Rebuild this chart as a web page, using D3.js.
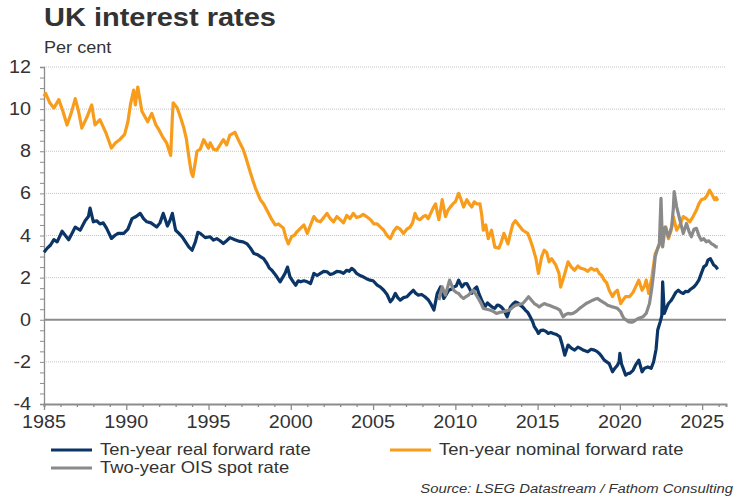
<!DOCTYPE html>
<html lang="en">
<head>
  <meta charset="UTF-8">
  <title>UK interest rates</title>
  <script src="https://d3js.org/d3.v7.min.js"></script>
  <style>
    body {
      margin: 0;
      font-family: Arial, "Liberation Sans", sans-serif;
      background: #fff;
    }
    text {
      font-family: Arial, "Liberation Sans", sans-serif;
    }
  </style>
</head>
<body>
  <svg width="750" height="500"></svg>

  <script>
    // Ten-year real forward rate [year, per cent]
    const realRate = [
      [1985.0,3.2],[1985.2,3.4],[1985.4,3.55],[1985.6,3.8],[1985.8,3.7],[1986.1,4.2],[1986.3,4.0],[1986.5,3.8],
      [1986.7,4.1],[1986.9,4.4],[1987.2,4.25],[1987.5,4.7],[1987.7,4.9],[1987.8,5.3],[1988.0,4.65],[1988.2,4.7],
      [1988.4,4.55],[1988.6,4.6],[1988.8,4.35],[1989.1,3.86],[1989.3,4.0],[1989.5,4.1],[1989.85,4.1],[1990.1,4.3],
      [1990.35,4.8],[1990.6,4.9],[1990.85,5.05],[1991.05,4.8],[1991.25,4.65],[1991.5,4.6],[1991.85,4.4],[1992.05,4.6],
      [1992.25,5.05],[1992.5,4.45],[1992.65,4.7],[1992.8,5.05],[1993.0,4.25],[1993.2,4.1],[1993.4,3.94],[1993.6,3.7],
      [1993.8,3.46],[1994.0,3.3],[1994.2,3.7],[1994.35,4.15],[1994.5,4.1],[1994.8,3.9],[1995.1,3.94],[1995.3,3.78],
      [1995.5,3.85],[1995.7,3.75],[1995.9,3.62],[1996.1,3.75],[1996.3,3.9],[1996.6,3.8],[1996.9,3.72],[1997.1,3.7],
      [1997.35,3.6],[1997.55,3.4],[1997.75,3.15],[1997.95,3.1],[1998.15,3.0],[1998.35,2.9],[1998.55,2.67],[1998.7,2.45],
      [1998.85,2.35],[1999.0,2.2],[1999.15,2.04],[1999.35,1.8],[1999.5,2.0],[1999.65,2.2],[1999.8,2.5],[1999.95,2.04],
      [2000.15,1.8],[2000.3,1.64],[2000.45,1.85],[2000.6,1.8],[2000.8,1.85],[2001.0,1.8],[2001.2,1.72],[2001.3,1.95],
      [2001.4,2.2],[2001.6,2.1],[2001.8,2.2],[2002.0,2.3],[2002.2,2.28],[2002.4,2.15],[2002.6,2.2],[2002.8,2.3],
      [2003.0,2.28],[2003.2,2.2],[2003.4,2.35],[2003.55,2.3],[2003.7,2.44],[2003.85,2.35],[2004.0,2.2],[2004.2,2.1],
      [2004.4,2.04],[2004.6,1.95],[2004.8,1.88],[2005.0,1.85],[2005.25,1.64],[2005.45,1.55],[2005.65,1.4],[2005.85,1.2],
      [2006.05,0.85],[2006.2,1.0],[2006.35,1.25],[2006.5,1.05],[2006.65,0.93],[2006.85,1.05],[2007.05,1.09],[2007.25,1.25],
      [2007.45,1.4],[2007.6,1.25],[2007.75,1.17],[2007.95,1.2],[2008.15,1.09],[2008.35,0.95],[2008.5,0.77],[2008.7,0.46],
      [2008.9,1.25],[2009.1,1.56],[2009.3,1.01],[2009.45,1.2],[2009.6,1.4],[2009.75,1.45],[2009.9,1.56],[2010.05,1.6],
      [2010.2,1.88],[2010.4,1.56],[2010.55,1.7],[2010.7,1.72],[2010.85,1.5],[2011.0,1.25],[2011.15,1.45],[2011.3,1.56],
      [2011.45,1.2],[2011.6,0.93],[2011.8,0.61],[2011.95,0.8],[2012.1,0.69],[2012.25,0.6],[2012.4,0.54],[2012.55,0.7],
      [2012.65,0.69],[2012.8,0.6],[2012.95,0.46],[2013.15,0.14],[2013.35,0.61],[2013.5,0.75],[2013.65,0.85],[2013.8,0.8],
      [2013.95,0.69],[2014.1,0.6],[2014.25,0.46],[2014.4,0.35],[2014.55,0.14],[2014.7,-0.1],[2014.8,-0.33],[2014.95,-0.5],
      [2015.05,-0.65],[2015.2,-0.5],[2015.35,-0.49],[2015.5,-0.55],[2015.65,-0.65],[2015.8,-0.6],[2015.95,-0.65],[2016.15,-0.7],
      [2016.35,-0.81],[2016.5,-1.2],[2016.65,-1.68],[2016.85,-1.2],[2017.05,-1.35],[2017.25,-1.44],[2017.45,-1.3],[2017.6,-1.36],
      [2017.8,-1.45],[2018.05,-1.52],[2018.25,-1.4],[2018.45,-1.44],[2018.6,-1.5],[2018.75,-1.6],[2018.9,-1.75],[2019.05,-1.92],
      [2019.2,-2.0],[2019.35,-2.08],[2019.55,-2.47],[2019.7,-2.3],[2019.85,-2.16],[2019.95,-2.0],[2020.0,-1.6],[2020.1,-2.1],
      [2020.2,-2.31],[2020.35,-2.63],[2020.5,-2.55],[2020.6,-2.55],[2020.8,-2.4],[2020.95,-2.16],[2021.15,-1.92],[2021.35,-2.47],
      [2021.5,-2.3],[2021.7,-2.24],[2021.9,-2.31],[2022.05,-2.0],[2022.2,-1.4],[2022.3,-0.49],[2022.45,-0.1],[2022.55,0.2],
      [2022.6,1.8],[2022.7,0.3],[2022.85,0.6],[2022.95,0.77],[2023.1,0.9],[2023.25,1.09],[2023.4,1.3],[2023.55,1.4],
      [2023.7,1.3],[2023.85,1.25],[2024.0,1.35],[2024.15,1.33],[2024.3,1.45],[2024.5,1.56],[2024.65,1.7],[2024.8,1.88],
      [2024.95,2.2],[2025.1,2.51],[2025.25,2.6],[2025.35,2.83],[2025.5,2.9],[2025.6,2.75],[2025.7,2.6],[2025.8,2.55],
      [2025.95,2.4]
    ];

    // Ten-year nominal forward rate [year, per cent]
    const nominalRate = [
      [1985.0,10.6],[1985.1,10.75],[1985.35,10.3],[1985.6,10.05],[1985.9,10.45],[1986.15,9.9],[1986.4,9.25],[1986.65,9.8],
      [1986.9,10.5],[1987.1,9.9],[1987.3,9.1],[1987.6,9.6],[1987.9,10.2],[1988.1,9.25],[1988.4,9.5],[1988.75,8.9],
      [1989.1,8.15],[1989.35,8.4],[1989.6,8.55],[1989.9,8.8],[1990.1,9.4],[1990.25,10.2],[1990.45,10.9],[1990.55,10.2],
      [1990.7,11.05],[1990.95,9.9],[1991.3,9.4],[1991.55,9.8],[1991.8,9.25],[1992.0,9.0],[1992.2,8.7],[1992.45,8.4],
      [1992.7,7.8],[1992.8,9.6],[1992.85,10.3],[1993.1,10.05],[1993.3,9.6],[1993.5,9.1],[1993.65,8.6],[1993.8,7.75],
      [1993.95,7.0],[1994.05,6.8],[1994.2,7.5],[1994.3,8.0],[1994.5,8.1],[1994.7,8.55],[1995.0,8.15],[1995.1,8.4],
      [1995.3,8.1],[1995.5,8.05],[1995.7,8.3],[1995.9,8.55],[1996.1,8.3],[1996.3,8.77],[1996.6,8.9],[1996.9,8.4],
      [1997.1,8.1],[1997.25,7.75],[1997.5,7.1],[1997.7,6.6],[1997.85,6.25],[1998.15,5.7],[1998.35,5.5],[1998.55,5.2],
      [1998.85,4.75],[1999.05,4.5],[1999.25,4.55],[1999.55,4.35],[1999.7,3.9],[1999.85,3.6],[2000.05,3.95],[2000.2,4.0],
      [2000.4,4.2],[2000.6,4.35],[2000.8,4.5],[2001.0,4.1],[2001.2,4.5],[2001.4,4.9],[2001.6,4.7],[2001.8,4.65],
      [2002.0,4.85],[2002.2,5.05],[2002.4,4.8],[2002.6,4.65],[2002.8,4.9],[2003.0,4.75],[2003.2,4.6],[2003.4,4.95],
      [2003.6,4.8],[2003.8,5.05],[2004.0,4.85],[2004.2,4.9],[2004.4,5.0],[2004.6,4.9],[2004.85,4.75],[2005.05,4.55],
      [2005.25,4.55],[2005.45,4.4],[2005.65,4.25],[2005.85,4.0],[2006.05,3.85],[2006.25,4.2],[2006.45,4.4],[2006.65,4.3],
      [2006.85,4.1],[2007.05,4.3],[2007.25,4.4],[2007.4,4.6],[2007.55,5.05],[2007.7,4.8],[2007.85,4.75],[2008.05,4.9],
      [2008.2,4.95],[2008.35,4.8],[2008.5,5.05],[2008.65,5.3],[2008.8,5.5],[2008.9,5.1],[2009.0,4.75],[2009.1,5.2],
      [2009.2,5.7],[2009.3,5.3],[2009.4,4.9],[2009.55,5.2],[2009.7,5.35],[2009.85,5.5],[2010.0,5.6],[2010.2,6.0],
      [2010.35,5.7],[2010.5,5.35],[2010.7,5.7],[2010.85,5.5],[2011.0,5.35],[2011.15,5.6],[2011.3,5.5],[2011.5,5.5],
      [2011.6,5.0],[2011.7,4.25],[2011.85,4.5],[2012.0,3.85],[2012.2,4.25],[2012.4,3.45],[2012.65,3.4],[2012.8,3.7],
      [2012.95,4.1],[2013.2,3.6],[2013.35,4.1],[2013.5,4.55],[2013.65,4.7],[2013.8,4.55],[2014.1,4.25],[2014.4,4.1],
      [2014.55,3.8],[2014.7,3.45],[2014.9,2.9],[2015.05,2.2],[2015.25,3.0],[2015.4,3.3],[2015.55,3.2],[2015.7,2.75],
      [2015.85,2.9],[2016.1,2.6],[2016.3,2.2],[2016.4,1.55],[2016.6,2.05],[2016.85,2.75],[2017.05,2.5],[2017.25,2.35],
      [2017.45,2.55],[2017.6,2.45],[2017.85,2.4],[2018.05,2.3],[2018.25,2.45],[2018.45,2.35],[2018.6,2.4],[2018.75,2.2],
      [2018.9,2.1],[2019.05,1.88],[2019.2,1.75],[2019.35,1.4],[2019.55,1.1],[2019.7,1.3],[2019.85,1.4],[2020.05,0.77],
      [2020.2,0.95],[2020.35,1.1],[2020.6,1.1],[2020.8,1.3],[2020.95,1.55],[2021.15,1.88],[2021.35,1.4],[2021.5,1.6],
      [2021.6,1.88],[2021.75,1.25],[2021.95,2.05],[2022.15,3.15],[2022.35,3.45],[2022.5,3.8],[2022.65,4.1],[2022.8,4.4],
      [2022.95,3.85],[2023.1,4.2],[2023.25,4.9],[2023.45,4.25],[2023.65,4.5],[2023.85,4.9],[2024.05,4.8],[2024.25,4.65],
      [2024.45,4.9],[2024.65,5.2],[2024.8,5.5],[2024.95,5.7],[2025.15,5.75],[2025.3,5.9],[2025.45,6.15],[2025.6,5.95],
      [2025.75,5.7],[2025.85,5.8],[2025.95,5.65]
    ];

    // Two-year OIS spot rate [year, per cent]
    const oisRate = [
      [2009.0,0.93],[2009.2,1.56],[2009.4,1.17],[2009.55,1.6],[2009.65,1.88],[2009.8,1.6],[2009.9,1.4],[2010.05,1.3],
      [2010.2,1.25],[2010.35,1.1],[2010.5,1.01],[2010.65,1.1],[2010.8,1.17],[2010.95,1.3],[2011.1,1.4],[2011.25,1.2],
      [2011.4,1.01],[2011.55,0.8],[2011.7,0.54],[2011.9,0.5],[2012.1,0.46],[2012.3,0.4],[2012.5,0.3],[2012.7,0.35],
      [2012.9,0.38],[2013.1,0.42],[2013.3,0.46],[2013.5,0.6],[2013.65,0.69],[2013.85,0.72],[2014.1,0.77],[2014.3,0.95],
      [2014.45,1.09],[2014.6,0.95],[2014.8,0.77],[2014.95,0.7],[2015.1,0.61],[2015.25,0.7],[2015.4,0.77],[2015.55,0.72],
      [2015.7,0.69],[2015.95,0.61],[2016.15,0.55],[2016.35,0.46],[2016.55,0.14],[2016.7,0.25],[2016.85,0.3],[2017.0,0.28],
      [2017.15,0.3],[2017.35,0.4],[2017.55,0.54],[2017.75,0.65],[2017.95,0.77],[2018.15,0.85],[2018.35,0.93],[2018.5,0.98],
      [2018.65,1.01],[2018.8,0.92],[2018.95,0.85],[2019.1,0.78],[2019.25,0.69],[2019.4,0.65],[2019.55,0.61],[2019.7,0.58],
      [2019.85,0.54],[2020.05,0.38],[2020.15,0.2],[2020.25,0.06],[2020.4,-0.02],[2020.55,-0.1],[2020.7,-0.12],[2020.8,-0.1],
      [2020.95,-0.02],[2021.1,0.06],[2021.25,0.1],[2021.4,0.14],[2021.6,0.3],[2021.8,0.77],[2021.95,1.56],[2022.05,2.2],
      [2022.15,3.0],[2022.3,3.4],[2022.4,3.6],[2022.5,5.76],[2022.55,4.5],[2022.6,3.46],[2022.75,4.4],[2022.95,3.94],
      [2023.15,4.4],[2023.25,5.3],[2023.3,6.08],[2023.45,5.36],[2023.65,4.73],[2023.85,4.1],[2024.05,4.57],[2024.2,4.2],
      [2024.35,3.94],[2024.5,4.3],[2024.65,4.34],[2024.8,4.0],[2024.95,3.78],[2025.1,3.85],[2025.25,3.7],[2025.4,3.75],
      [2025.55,3.62],[2025.7,3.55],[2025.85,3.46],[2025.95,3.45]
    ];

    const yTicks = [-4, -2, 0, 2, 4, 6, 8, 10, 12];
    const xTicks = [1985, 1990, 1995, 2000, 2005, 2010, 2015, 2020, 2025];

    const series = [
      {name: "Ten-year real forward rate", values: realRate, color: "#0b3566"},
      {name: "Ten-year nominal forward rate", values: nominalRate, color: "#f89c1c"},
      {name: "Two-year OIS spot rate", values: oisRate, color: "#8a8a8a"}
    ];

    const svg = d3.select("svg");
    const textColor = "#333333";
    const axisColor = "#8c8c8c";
    const stretch = 1.13; // the reference's lettering is a bit wider than Arial

    const x = d3.scaleLinear().domain([1985, 2026.45]).range([44, 726]);
    const y = d3.scaleLinear().domain([-4, 12]).range([404, 67]);

    // text placed with a horizontal stretch
    function wideText(sel, px, py, sx) {
      return sel.attr("transform", (d, i) => {
        const tx = typeof px === "function" ? px(d, i) : px;
        const ty = typeof py === "function" ? py(d, i) : py;
        return `translate(${tx},${ty}) scale(${sx},1)`;
      });
    }

    // title and unit
    wideText(svg.append("text"), 44, 26, 1.16)
      .style("font-size", "25px").style("font-weight", "bold")
      .style("fill", textColor)
      .text("UK interest rates");

    wideText(svg.append("text"), 44, 53, stretch)
      .style("font-size", "16px").style("fill", textColor)
      .text("Per cent");

    // gridlines
    svg.append("g")
      .selectAll("line")
      .data(yTicks.filter(d => d !== 0 && d !== -4))
      .join("line")
      .attr("x1", x(1985)).attr("x2", x.range()[1])
      .attr("y1", d => y(d)).attr("y2", d => y(d))
      .attr("stroke", "#c4c4c4")
      .attr("stroke-width", 1)
      .attr("stroke-dasharray", "1,1");

    // zero line
    svg.append("line")
      .attr("x1", x(1985)).attr("x2", x.range()[1])
      .attr("y1", y(0)).attr("y2", y(0))
      .attr("stroke", axisColor)
      .attr("stroke-width", 2);

    // y axis: minor ticks every 0.5
    const yAxis = svg.append("g")
      .attr("transform", `translate(${x(1985)},0)`)
      .call(d3.axisLeft(y).tickValues(d3.range(-4, 12.01, 0.5)).tickSize(4).tickFormat(""));
    yAxis.select(".domain").attr("stroke", axisColor).attr("stroke-width", 1.3);
    yAxis.selectAll(".tick line").attr("stroke", axisColor);

    wideText(svg.append("g")
      .selectAll("text")
      .data(yTicks)
      .join("text"), 31, d => y(d) + 6, stretch)
      .attr("text-anchor", "end")
      .style("font-size", "17.5px")
      .style("fill", textColor)
      .text(d => d);

    // x axis: yearly ticks, longer at 5 years
    const xAxis = svg.append("g")
      .attr("transform", `translate(0,${y(-4)})`)
      .call(d3.axisBottom(x).tickValues(d3.range(1985, 2027, 1)).tickSize(3).tickFormat(""));
    xAxis.select(".domain").attr("stroke", axisColor).attr("stroke-width", 2);
    xAxis.selectAll(".tick line")
      .attr("stroke", axisColor)
      .attr("stroke-width", 1.3)
      .attr("y2", d => d % 5 === 0 ? 6 : 3);

    wideText(svg.append("g")
      .selectAll("text")
      .data(xTicks)
      .join("text"), d => x(d), y(-4) + 24, stretch)
      .attr("text-anchor", "middle")
      .style("font-size", "17.5px")
      .style("fill", textColor)
      .text(d => d);

    // lines
    const line = d3.line()
      .x(d => x(d[0]))
      .y(d => y(d[1]));

    svg.append("g")
      .selectAll("path")
      .data(series)
      .join("path")
      .attr("d", d => line(d.values))
      .attr("fill", "none")
      .attr("stroke", d => d.color)
      .attr("stroke-width", 3.2)
      .attr("stroke-linejoin", "round");

    // legend
    const legendPos = [
      {x: 51, y: 450},
      {x: 390, y: 450},
      {x: 51, y: 468}
    ];

    const legend = svg.append("g")
      .selectAll("g")
      .data(series)
      .join("g")
      .attr("transform", (d, i) => `translate(${legendPos[i].x},${legendPos[i].y})`);

    legend.append("line")
      .attr("x1", 0).attr("x2", 41)
      .attr("stroke", d => d.color)
      .attr("stroke-width", 3);

    wideText(legend.append("text"), 49, 5, stretch)
      .style("font-size", "16.3px")
      .style("fill", textColor)
      .text(d => d.name);

    // source
    wideText(svg.append("text"), 733, 493, 1.1)
      .attr("text-anchor", "end")
      .style("font-size", "13.5px")
      .style("font-style", "italic")
      .style("fill", textColor)
      .text("Source: LSEG Datastream / Fathom Consulting");
  </script>
</body>
</html>
